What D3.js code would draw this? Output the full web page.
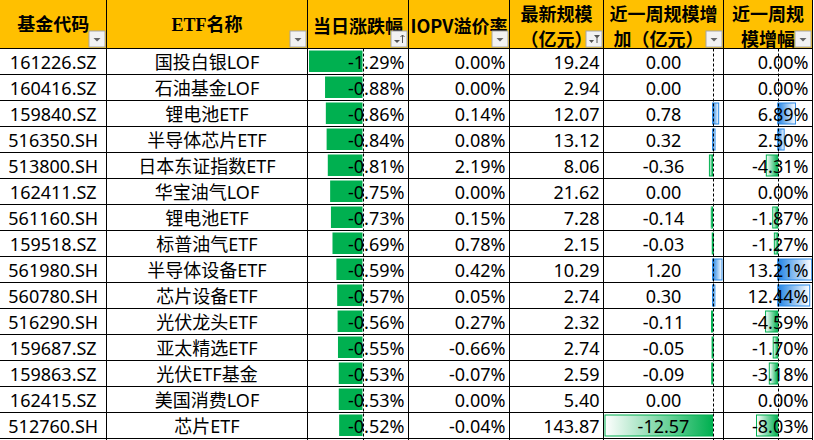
<!DOCTYPE html>
<html><head><meta charset="utf-8">
<script src="https://cdn.jsdelivr.net/npm/d3@7/dist/d3.min.js"></script>
<style>
html,body{margin:0;padding:0;background:#fff;}
svg{display:block;}
</style>
</head><body>
<svg id="chart" width="814" height="440"></svg>
<script>
// ---- data ----
const headers = [["基金代码"],["ETF名称"],["当日涨跌幅"],["IOPV溢价率"],["最新规模","（亿元）"],["近一周规模增","加（亿元）"],["近一周规","模增幅"]];
const codes = ["161226.SZ","160416.SZ","159840.SZ","516350.SH","513800.SH","162411.SZ","561160.SH","159518.SZ","561980.SH","560780.SH","516290.SH","159687.SZ","159863.SZ","162415.SZ","512760.SH"];
const names = ["国投白银LOF","石油基金LOF","锂电池ETF","半导体芯片ETF","日本东证指数ETF","华宝油气LOF","锂电池ETF","标普油气ETF","半导体设备ETF","芯片设备ETF","光伏龙头ETF","亚太精选ETF","光伏ETF基金","美国消费LOF","芯片ETF"];
const dailyChange = [-1.29,-0.88,-0.86,-0.84,-0.81,-0.75,-0.73,-0.69,-0.59,-0.57,-0.56,-0.55,-0.53,-0.53,-0.52];
const iopvPremium = [0.00,0.00,0.14,0.08,2.19,0.00,0.15,0.78,0.42,0.05,0.27,-0.66,-0.07,0.00,-0.04];
const latestSize = [19.24,2.94,12.07,13.12,8.06,21.62,7.28,2.15,10.29,2.74,2.32,2.74,2.59,5.40,143.87];
const weeklySizeChange = [0.00,0.00,0.78,0.32,-0.36,0.00,-0.14,-0.03,1.20,0.30,-0.11,-0.05,-0.09,0.00,-12.57];
const weeklyGrowth = [0.00,0.00,6.89,2.50,-4.31,0.00,-1.87,-1.27,13.21,12.44,-4.59,-1.70,-3.18,0.00,-8.03];

// ---- layout ----
const svg = d3.select("#chart");
const colEdges = [0,106.5,307.5,408.5,509.5,603.5,723.5,812.5];
const headerH = 48.5;
const y = d3.scaleBand().domain(d3.range(codes.length)).range([headerH, 438.5]);
const rowH = y.bandwidth();
const dataFont = "'Noto Sans','Noto Sans CJK SC',sans-serif";
const headFont = "'Noto Sans CJK SC','Noto Sans',sans-serif";

const defs = svg.append("defs");
function grad(id, c, dir){
  const g = defs.append("linearGradient").attr("id",id).attr("x1",dir>0?"0":"1").attr("x2",dir>0?"1":"0").attr("y1","0").attr("y2","0");
  g.append("stop").attr("offset","0").attr("stop-color",c);
  g.append("stop").attr("offset","1").attr("stop-color","#ffffff");
}
grad("gPos","#1f82e4",1);
grad("gNeg","#00b050",-1);

// header background
svg.append("rect").attr("x",0).attr("y",0).attr("width",812.5).attr("height",headerH).attr("fill","#FFC000");

// scales for data bars
const xDaily = d3.scaleLinear().domain([-1.29,0]).range([309,359.5]);
const axisDaily = 362.5;
const xSize = d3.scaleLinear().domain([-12.57,0,1.20]).range([605,712.5,722]);
const axisSize = 712.5;
const xGrowth = d3.scaleLinear().domain([-8.03,0,13.21]).range([756.5,777.7,811.7]);
const axisGrowth = 777.7;

const rows = d3.range(codes.length);
const barInset = 2;

// daily change solid bars
svg.append("g").selectAll("rect").data(rows).join("rect")
  .attr("x", i => xDaily(dailyChange[i]))
  .attr("width", i => axisDaily - xDaily(dailyChange[i]))
  .attr("y", i => y(i) + barInset)
  .attr("height", rowH - barInset*2 - 0.5)
  .attr("fill", "#00B050");

function gradBars(vals, sc, ax){
  svg.append("g").selectAll("rect").data(rows.filter(i => vals[i] !== 0)).join("rect")
    .attr("x", i => vals[i] < 0 ? sc(vals[i]) : ax)
    .attr("width", i => Math.max(1, Math.abs(sc(vals[i]) - ax)))
    .attr("y", i => y(i) + barInset + 0.5)
    .attr("height", rowH - barInset*2 - 1)
    .attr("fill", i => vals[i] < 0 ? "url(#gNeg)" : "url(#gPos)")
    .attr("stroke", i => vals[i] < 0 ? "#00B050" : "#2b8ae8")
    .attr("stroke-width", 1);
}
gradBars(weeklySizeChange, xSize, axisSize);
gradBars(weeklyGrowth, xGrowth, axisGrowth);

// dashed axes
[axisDaily, axisSize, axisGrowth].forEach(ax => {
  svg.append("line").attr("x1",Math.round(ax)+0.5).attr("x2",Math.round(ax)+0.5)
    .attr("y1",headerH).attr("y2",440)
    .attr("stroke","#000").attr("stroke-width",1).attr("stroke-dasharray","3,2");
});

// grid lines
const grid = svg.append("g").attr("stroke","#000").attr("stroke-width",1);
colEdges.slice(1).forEach(x => grid.append("line").attr("x1",x).attr("x2",x).attr("y1",0).attr("y2",440));
[headerH].concat(rows.map(i => y(i) + rowH)).forEach(yy => {
  const r = Math.round(yy - 0.5) + 0.5;
  grid.append("line").attr("x1",0).attr("x2",812.5).attr("y1",r).attr("y2",r);
});

// header text
headers.forEach((lines, c) => {
  const cx = (colEdges[c] + colEdges[c+1]) / 2;
  const fam = c < 2 ? "'Liberation Serif','Noto Sans CJK SC',serif" : headFont;
  const ys = lines.length === 1 ? [24.5] : [12.5, 38];
  lines.forEach((t, k) => {
    svg.append("text").attr("x", cx + (c === 5 && k === 1 ? -5 : 0)).attr("y", ys[k])
      .attr("text-anchor","middle").attr("dominant-baseline","central")
      .attr("font-family", fam).attr("font-weight","bold").attr("font-size",18)
      .attr("fill","#000").text(t);
  });
});

// filter buttons
colEdges.slice(1).forEach((xr, c) => {
  const bx = xr - 17.5, by = 31;
  const g = svg.append("g");
  g.append("rect").attr("x",bx).attr("y",by).attr("width",16).attr("height",16)
    .attr("fill","#F2F2F2").attr("stroke","#A6A6A6").attr("stroke-width",1);
  if (c === 2) {
    g.append("path").attr("d",`M${bx+3},${by+9}h6l-3,3z`).attr("fill","#555");
    g.append("path").attr("d",`M${bx+11.5},${by+12}v-8M${bx+9.5},${by+6}l2,-2l2,2`).attr("stroke","#555").attr("fill","none");
  } else if (c === 4) {
    g.append("path").attr("d",`M${bx+3},${by+9}h5l-2.5,3z`).attr("fill","#555");
    g.append("path").attr("d",`M${bx+8},${by+4}h6l-2.5,3v5h-1v-5z`).attr("fill","#555");
  } else {
    g.append("path").attr("d",`M${bx+4.5},${by+7}h7l-3.5,3.5z`).attr("fill","#666");
  }
});

// data text
function cellText(c, i, txt, anchor){
  const xl = colEdges[c], xr = colEdges[c+1];
  const x = anchor === "middle" ? (xl + xr) / 2 : xr - 4;
  svg.append("text").attr("x", x).attr("y", y(i) + rowH/2 + 0.5)
    .attr("text-anchor", anchor).attr("dominant-baseline","central")
    .attr("font-family", dataFont).attr("font-size", 18).attr("fill","#000").text(txt);
}
const f2 = v => v.toFixed(2);
rows.forEach(i => {
  cellText(0, i, codes[i], "middle");
  cellText(1, i, names[i], "middle");
  cellText(2, i, f2(dailyChange[i]) + "%", "end");
  cellText(3, i, f2(iopvPremium[i]) + "%", "end");
  cellText(4, i, f2(latestSize[i]), "end");
  cellText(5, i, f2(weeklySizeChange[i]), "middle");
  cellText(6, i, f2(weeklyGrowth[i]) + "%", "end");
});
</script>
</body></html>
